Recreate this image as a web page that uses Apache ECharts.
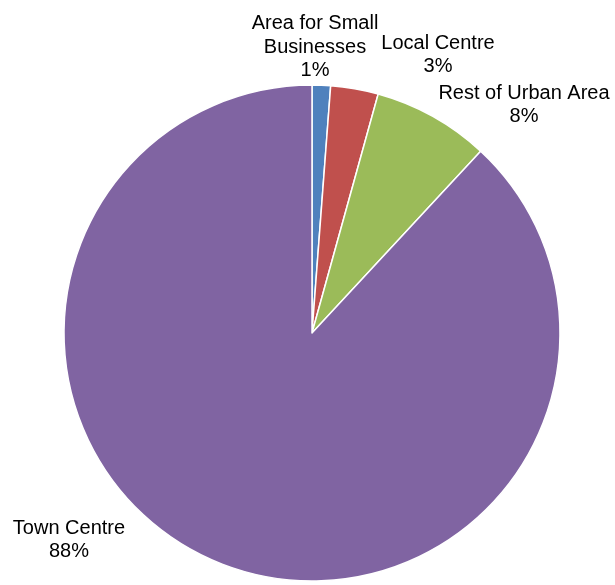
<!DOCTYPE html>
<html>
<head>
<meta charset="utf-8">
<script src="https://cdn.jsdelivr.net/npm/echarts@6/dist/echarts.min.js"></script>
<style>html,body{margin:0;padding:0;background:#fff;}#c{width:615px;height:585px;}</style>
</head>
<body>
<div id="c"></div>
<script>
const categories = ['Area for Small Businesses', 'Local Centre', 'Rest of Urban Area', 'Town Centre'];
const values = [1.2, 3.1, 7.6, 88.1];
const colors = ['#4F81BD', '#C0504D', '#9BBB59', '#8064A2'];
const labelPos = [[315, 47], [438, 55], [524, 105], [69, 540]];

const chart = echarts.init(document.getElementById('c'), null, {renderer: 'canvas'});
chart.setOption({
  animation: false,
  series: [{
    type: 'pie',
    center: [312, 333],
    radius: 248,
    startAngle: 90,
    clockwise: true,
    data: categories.map((n, i) => ({name: n, value: values[i], itemStyle: {color: colors[i]}})),
    itemStyle: {borderColor: '#fff', borderWidth: 1.5},
    label: {
      show: true,
      position: 'outside',
      fontFamily: 'Liberation Sans, Arial, sans-serif',
      fontSize: 20,
      lineHeight: 23.5,
      color: '#000',
      align: 'center',
      overflow: 'none',
      formatter: p => p.name.replace('Small ', 'Small\n') + '\n' + Math.round(p.percent) + '%'
    },
    labelLine: {show: false},
    labelLayout: p => ({x: labelPos[p.dataIndex][0], y: labelPos[p.dataIndex][1], align: 'center', verticalAlign: 'middle'})
  }]
});
</script>
</body>
</html>
